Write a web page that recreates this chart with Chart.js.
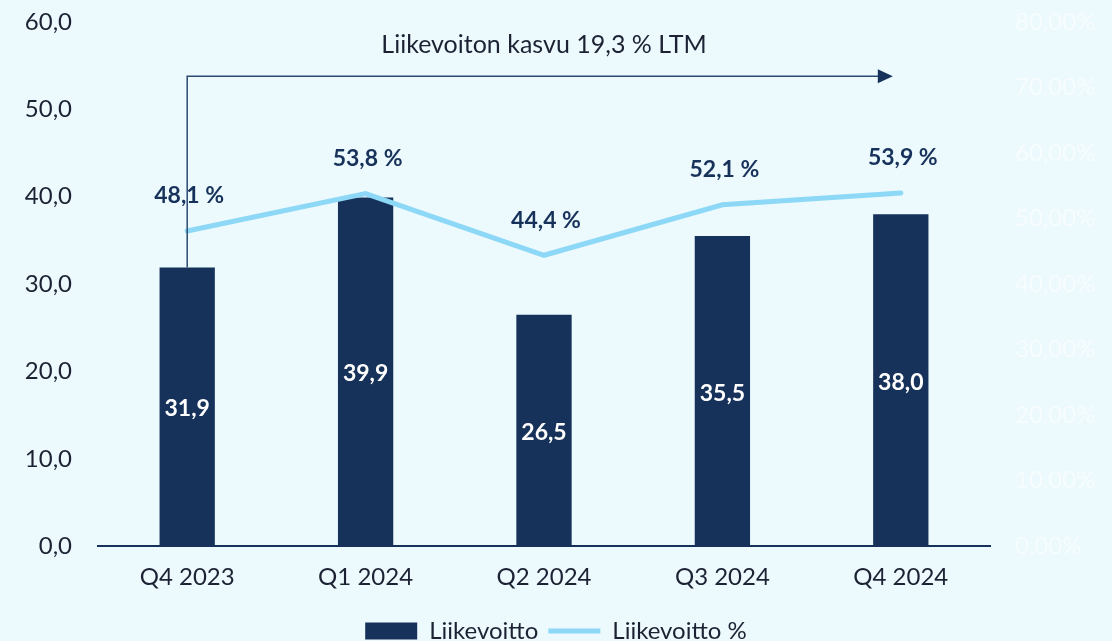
<!DOCTYPE html>
<html>
<head>
<meta charset="utf-8">
<script src="https://cdn.jsdelivr.net/npm/chart.js@4.4.1/dist/chart.umd.min.js"></script>
<style>
  html, body { margin: 0; padding: 0; background: #ecf9fd; overflow: hidden; }
  #wrap { position: absolute; left: 0; top: 0; width: 1112px; height: 653px; }
</style>
</head>
<body>
<div id="wrap"><canvas id="c"></canvas></div>
<script>
const categories = ['Q4 2023', 'Q1 2024', 'Q2 2024', 'Q3 2024', 'Q4 2024'];
const operatingProfit = [31.9, 39.9, 26.5, 35.5, 38.0];
const operatingMarginPct = [48.1, 53.8, 44.4, 52.1, 53.9];
const leftTicks = [0, 10, 20, 30, 40, 50, 60];
const rightTicks = [0, 10, 20, 30, 40, 50, 60, 70, 80];
const growthText = 'Liikevoiton kasvu 19,3 % LTM';
const arrowLevel = 53.8; // arrow height on left scale

const NAVY = '#17325a';
const LIGHT = '#8dd8f6';
const FONT = 'Lato, "Open Sans", sans-serif';
const TXT = '#1c2233';

function fi(v, d) { return v.toFixed(d).replace('.', ','); }

const overlay = {
  id: 'overlay',
  afterDatasetsDraw(chart) {
    const ctx = chart.ctx;
    const x = chart.scales.x, y = chart.scales.y, y2 = chart.scales.y2;
    ctx.save();
    // bar value labels
    ctx.font = 'bold 23px ' + FONT;
    ctx.fillStyle = '#ffffff';
    ctx.textAlign = 'center';
    ctx.textBaseline = 'middle';
    operatingProfit.forEach((v, i) => {
      const px = x.getPixelForValue(i);
      const py = (y.getPixelForValue(v) + y.getPixelForValue(0)) / 2;
      ctx.fillText(fi(v, 1), px, py + 2);
    });
    // line labels
    ctx.font = 'bold 23px ' + FONT;
    ctx.fillStyle = NAVY;
    operatingMarginPct.forEach((v, i) => {
      const px = x.getPixelForValue(i);
      const py = y2.getPixelForValue(v) - 35;
      ctx.fillText(fi(v, 1) + ' %', px + 2, py);
    });
    // arrow
    const x0 = x.getPixelForValue(0);
    const yb = y.getPixelForValue(operatingProfit[0]);
    const yt = y.getPixelForValue(arrowLevel);
    const x1 = x.getPixelForValue(categories.length - 1) - 8;
    ctx.strokeStyle = '#2b4a72';
    ctx.lineWidth = 1.5;
    ctx.beginPath();
    ctx.moveTo(x0, yb);
    ctx.lineTo(x0, yt);
    ctx.lineTo(x1 - 12, yt);
    ctx.stroke();
    ctx.fillStyle = NAVY;
    ctx.beginPath();
    ctx.moveTo(x1, yt);
    ctx.lineTo(x1 - 15, yt - 7);
    ctx.lineTo(x1 - 15, yt + 7);
    ctx.closePath();
    ctx.fill();
    // growth text
    ctx.font = '25px ' + FONT;
    ctx.fillStyle = TXT;
    ctx.fillText(growthText, (chart.chartArea.left + chart.chartArea.right) / 2, yt - 31);
    ctx.restore();
  }
};

new Chart(document.getElementById('c'), {
  data: {
    labels: categories,
    datasets: [
      {
        type: 'line',
        label: 'Liikevoitto %',
        data: operatingMarginPct,
        yAxisID: 'y2',
        borderColor: LIGHT,
        backgroundColor: LIGHT,
        borderWidth: 5,
        borderCapStyle: 'round',
        pointRadius: 0,
        pointStyle: 'line',
        tension: 0,
        order: 0
      },
      {
        type: 'bar',
        label: 'Liikevoitto',
        data: operatingProfit,
        yAxisID: 'y',
        backgroundColor: NAVY,
        borderWidth: 0,
        barPercentage: 0.31,
        categoryPercentage: 1,
        pointStyle: 'rect',
        order: 1
      }
    ]
  },
  options: {
    responsive: true,
    maintainAspectRatio: false,
    animation: false,
    layout: { padding: { top: 22, left: 0, right: 0, bottom: 0 } },
    plugins: {
      tooltip: { enabled: false },
      legend: {
        position: 'bottom',
        reverse: true,
        labels: {
          usePointStyle: true,
          pointStyleWidth: 52,
          boxHeight: 17,
          padding: 10,
          color: TXT,
          font: { family: FONT, size: 24 }
        }
      }
    },
    scales: {
      x: {
        grid: { display: false, drawTicks: false },
        border: { display: true, color: NAVY, width: 2 },
        ticks: { color: TXT, font: { family: FONT, size: 24 }, padding: 17 }
      },
      y: {
        position: 'left',
        min: 0, max: 60,
        afterBuildTicks(s) { s.ticks = leftTicks.map(v => ({ value: v })); },
        afterFit(s) { s.width = 98; s.paddingTop = 0; s.paddingBottom = 0; },
        grid: { display: false, drawTicks: false },
        border: { display: false },
        ticks: {
          color: TXT, padding: 26,
          font: { family: FONT, size: 24 },
          callback: v => fi(v, 1)
        }
      },
      y2: {
        position: 'right',
        min: 0, max: 80,
        afterBuildTicks(s) { s.ticks = rightTicks.map(v => ({ value: v })); },
        afterFit(s) { s.width = 122; s.paddingTop = 0; s.paddingBottom = 0; },
        grid: { display: false, drawTicks: false },
        border: { display: false },
        ticks: {
          color: 'rgba(255,255,255,0.6)', padding: 25,
          font: { family: FONT, size: 24 },
          callback: v => fi(v, 2) + '%'
        }
      }
    }
  },
  plugins: [overlay]
});
</script>
</body>
</html>
